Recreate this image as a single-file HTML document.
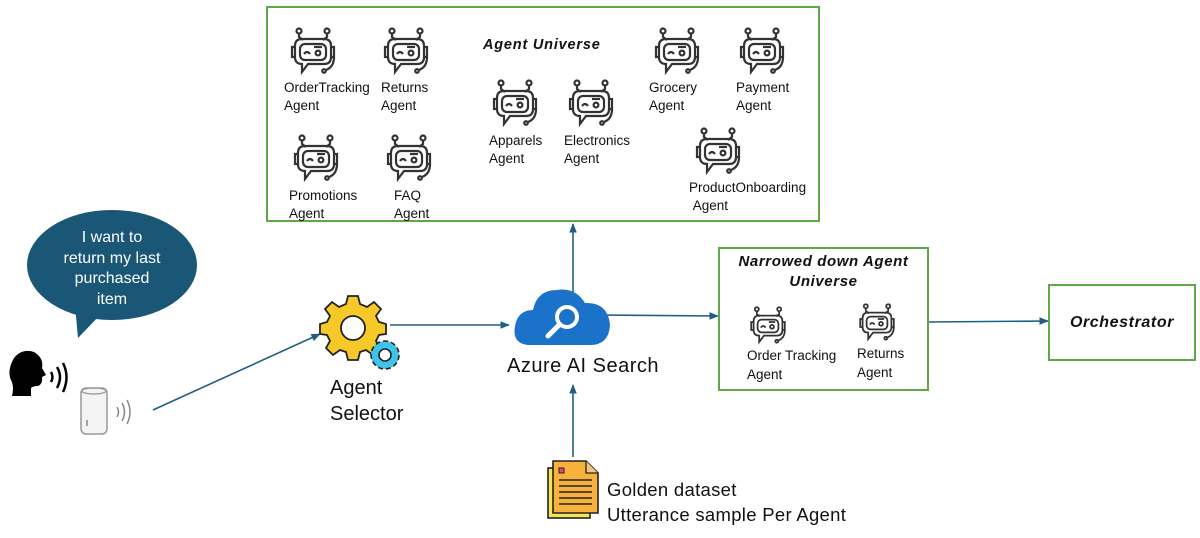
<!DOCTYPE html>
<html><head><meta charset="utf-8"><style>
html,body{margin:0;padding:0;background:#fff}
body{width:1200px;height:538px;position:relative;overflow:hidden;font-family:"Liberation Sans",sans-serif}
.t{position:absolute;font-size:13.5px;line-height:18px;color:#111;white-space:nowrap}
.box{position:absolute;border:2.5px solid #5ea84a;box-sizing:border-box}
.bi{font-weight:bold;font-style:italic;color:#111;position:absolute;white-space:nowrap}
</style></head><body>
<svg width="1200" height="538" style="position:absolute;left:0;top:0">
<defs>
<symbol id="rb" viewBox="0 0 50 50">
<g fill="none" stroke="#333" stroke-width="2.2">
<circle cx="11" cy="4" r="2.5"/><circle cx="39" cy="4" r="2.5"/>
<path d="M11 6.5 V10 L15 13 M39 6.5 V10 L35 13"/>
<path d="M14 12 H36 Q43 12 43 19 V30 Q43 37 36 37 H20 L14 45 V37 Q7 37 7 30 V19 Q7 12 14 12 Z"/>
<rect x="12" y="17" width="26" height="16" rx="5"/>
<path d="M7 20 H4 V30 H7 M43 20 H46 V30 H43"/>
<path d="M46 30 Q46 40 38 43"/><circle cx="36" cy="44" r="1.8"/>
<path d="M16 27 Q19 23 22 27"/><circle cx="30" cy="26" r="2.4"/>
<path d="M26 20 H34"/>
</g>
</symbol>
<marker id="ar" viewBox="0 0 10 10" refX="9" refY="5" markerWidth="6" markerHeight="6" orient="auto"><path d="M0 1 L10 5 L0 9 Z" fill="#1f5f85"/></marker>
</defs>
<use href="#rb" x="288" y="27" width="50" height="50"/>
<use href="#rb" x="381" y="27" width="50" height="50"/>
<use href="#rb" x="652" y="27" width="50" height="50"/>
<use href="#rb" x="737" y="27" width="50" height="50"/>
<use href="#rb" x="490" y="79" width="50" height="50"/>
<use href="#rb" x="566" y="79" width="50" height="50"/>
<use href="#rb" x="291" y="134" width="50" height="50"/>
<use href="#rb" x="384" y="134" width="50" height="50"/>
<use href="#rb" x="693" y="127" width="50" height="50"/>
<use href="#rb" x="748" y="306" width="40" height="40"/>
<use href="#rb" x="857" y="303" width="40" height="40"/>
<g stroke="#1f5f85" stroke-width="1.6" fill="none">
<line x1="153" y1="410" x2="320" y2="334" marker-end="url(#ar)"/>
<line x1="390" y1="325" x2="509" y2="325" marker-end="url(#ar)"/>
<line x1="573" y1="292" x2="573" y2="224" marker-end="url(#ar)"/>
<line x1="600" y1="315" x2="718" y2="316" marker-end="url(#ar)"/>
<line x1="929" y1="322" x2="1048" y2="321" marker-end="url(#ar)"/>
<line x1="573" y1="457" x2="573" y2="385" marker-end="url(#ar)"/>
</g>
<ellipse cx="112" cy="265" rx="85" ry="55" fill="#1a5676"/>
<path d="M75 305 L78 338 L100 315 Z" fill="#1a5676"/>
<path d="M14 358 Q22 348 34 352 Q44 358 42 368 L46 375 L42 377 Q43 384 38 386 Q33 386 31 388 L31 396 L12 396 Q14 388 12 382 Q6 372 14 358 Z" fill="#000"/>
<path d="M51 372 Q54 377 51 382 M57 367 Q63 377 57 388 M63 363 Q70 377 63 392" stroke="#000" stroke-width="2.5" fill="none"/>
<rect x="81" y="388" width="26" height="46" rx="5" fill="#f4f4f4" stroke="#999" stroke-width="1.5"/>
<ellipse cx="94" cy="391" rx="12" ry="3" fill="none" stroke="#999" stroke-width="1.3"/>
<path d="M87 420 v6" stroke="#888" stroke-width="1.5"/>
<path d="M117 407 Q120 412 117 417 M122 403 Q127 412 122 421 M127 400 Q133 412 127 424" stroke="#888" stroke-width="1.5" fill="none"/>
<g transform="translate(353,328)">
<g fill="#f6c928" stroke="#222" stroke-width="1.8">
<path d="M-5 -27 H5 L7 -19 L14 -16 L21 -21 L28 -14 L23 -7 L26 -1 L33 1 V11 L26 12 L23 18 L27 25 L20 32 L13 27 L7 29 L5 37 H-5 L-7 29 L-13 27 L-20 32 L-27 25 L-23 18 L-26 12 L-33 11 V1 L-26 -1 L-23 -7 L-28 -14 L-21 -21 L-14 -16 L-7 -19 Z" transform="translate(0,-5)"/>
<circle cx="0" cy="0" r="12" fill="#fff"/>
</g>
</g>
<g transform="translate(385,355)">
<circle r="14" fill="#3ec3ea" stroke="#222" stroke-width="1.6" stroke-dasharray="5 3"/>
<circle r="11" fill="#3ec3ea" stroke="none"/>
<circle r="6" fill="#fff" stroke="#222" stroke-width="1.6"/>
</g>
<path d="M528 345 Q510 343 516 322 Q520 310 533 310 Q537 290 557 290 Q575 287 585 303 Q608 302 610 325 Q609 345 590 345 Z" fill="#1a73c8"/>
<circle cx="567" cy="317" r="10" fill="none" stroke="#fff" stroke-width="4"/>
<line x1="559" y1="325" x2="548" y2="336" stroke="#fff" stroke-width="5" stroke-linecap="round"/>
<rect x="548" y="468" width="42" height="50" fill="#f6e35a" stroke="#222" stroke-width="1.6"/>
<path d="M553 461 H586 L598 473 V513 H553 Z" fill="#f9b13e" stroke="#222" stroke-width="1.6"/>
<path d="M586 461 V473 H598" fill="#f6c37a" stroke="#222" stroke-width="1.3"/>
<rect x="559" y="468" width="5" height="5" fill="#e0506a" stroke="#222" stroke-width="1"/>
<g stroke="#222" stroke-width="1.6"><line x1="559" y1="480" x2="592" y2="480"/><line x1="559" y1="486" x2="592" y2="486"/><line x1="559" y1="492" x2="592" y2="492"/><line x1="559" y1="498" x2="592" y2="498"/><line x1="559" y1="504" x2="592" y2="504"/></g>
</svg>
<div class="box" style="left:266px;top:6px;width:554px;height:216px"></div>
<div class="box" style="left:718px;top:247px;width:211px;height:144px"></div>
<div class="box" style="left:1048px;top:284px;width:148px;height:77px"></div>
<div class="bi" style="left:483px;top:37px;font-size:14.5px;letter-spacing:0.8px">Agent Universe</div>
<div class="bi" style="left:719px;top:252px;width:209px;text-align:center;font-size:15px;line-height:20px;letter-spacing:0.6px">Narrowed down Agent<br>Universe</div>
<div class="bi" style="left:1049px;top:314px;width:146px;text-align:center;font-size:16px;letter-spacing:0.6px">Orchestrator</div>
<div class="t" style="left:284px;top:79px">OrderTracking<br>Agent</div>
<div class="t" style="left:381px;top:79px">Returns<br>Agent</div>
<div class="t" style="left:649px;top:79px">Grocery<br>Agent</div>
<div class="t" style="left:736px;top:79px">Payment<br>Agent</div>
<div class="t" style="left:489px;top:132px">Apparels<br>Agent</div>
<div class="t" style="left:564px;top:132px">Electronics<br>Agent</div>
<div class="t" style="left:289px;top:187px">Promotions<br>Agent</div>
<div class="t" style="left:394px;top:187px">FAQ<br>Agent</div>
<div class="t" style="left:689px;top:179px">ProductOnboarding<br>&nbsp;Agent</div>
<div class="t" style="left:747px;top:346px;line-height:19px">Order Tracking<br>Agent</div>
<div class="t" style="left:857px;top:344px;line-height:19px">Returns<br>Agent</div>
<div style="position:absolute;left:27px;top:228px;width:170px;text-align:center;color:#fff;font-size:16px;line-height:20.5px">I want to<br>return my last<br>purchased<br>item</div>
<div class="t" style="left:330px;top:375px;font-size:20px;line-height:26px">Agent<br>Selector</div>
<div class="t" style="left:507px;top:354px;font-size:20px;line-height:24px;letter-spacing:0.5px">Azure AI Search</div>
<div class="t" style="left:607px;top:477px;font-size:18.5px;line-height:25px;letter-spacing:0.3px">Golden dataset<br>Utterance sample Per Agent</div>
</body></html>
